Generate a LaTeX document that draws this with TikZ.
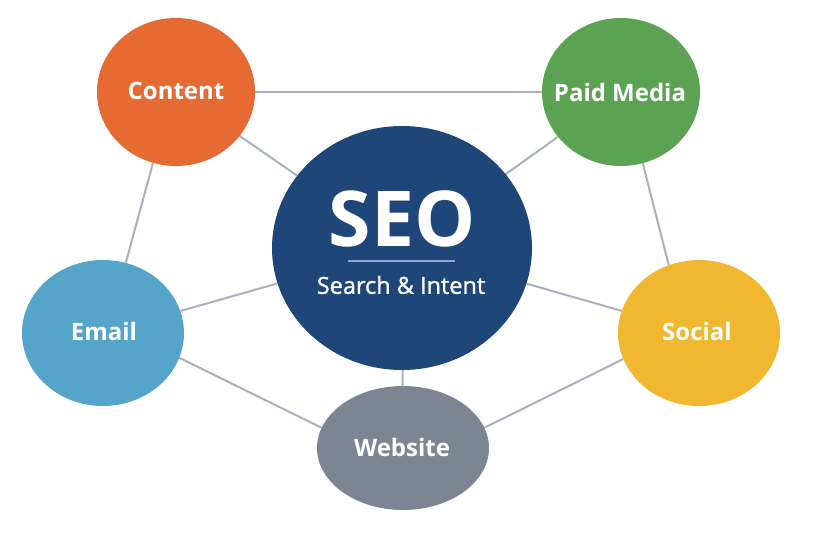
\documentclass[tikz,border=0pt]{standalone}
\usepackage{fontspec}
\setmainfont{Open Sans}
\newfontfamily\medfont[FakeBold=1.2]{Open Sans}
\usetikzlibrary{shapes.geometric,backgrounds}
\definecolor{cContent}{HTML}{E56B33}
\definecolor{cPaid}{HTML}{5BA352}
\definecolor{cEmail}{HTML}{55A5CB}
\definecolor{cSocial}{HTML}{F0B731}
\definecolor{cWeb}{HTML}{7D8595}
\definecolor{cSEO}{HTML}{1F4679}
\definecolor{cLink}{HTML}{A9B0BE}
\definecolor{cRule}{HTML}{8FA6D0}
\tikzset{
  bubble/.style={ellipse, inner sep=0pt, draw=none},
  lbl/.style={text=white, inner sep=0pt},
  blbl/.style={lbl, font=\bfseries\fontsize{24}{28}\selectfont},
  link/.style={draw=cLink, line width=2pt}
}
\begin{document}
\begin{tikzpicture}[x=1pt,y=-1pt]
\begin{scope}[on background layer]
\fill[white] (0,0) rectangle (837,557);
\end{scope}
\useasboundingbox (0,0) rectangle (837,557);
\node[bubble, fill=cContent, minimum width=158pt, minimum height=148pt] (content) at (176,92) {};
\node[bubble, fill=cPaid, minimum width=158pt, minimum height=148pt] (paid) at (621,92) {};
\node[bubble, fill=cEmail, minimum width=162pt, minimum height=146pt] (email) at (103,333) {};
\node[bubble, fill=cSocial, minimum width=162pt, minimum height=146pt] (social) at (699,333) {};
\node[bubble, fill=cWeb, minimum width=172pt, minimum height=124pt] (web) at (403,448) {};
\node[bubble, fill=cSEO, minimum width=260pt, minimum height=244pt] (seo) at (402,248) {};
\node[blbl] (contentt) at (176,91) {Content};
\node[blbl] (paidt) at (620,92) {Paid Media};
\node[blbl] (emailt) at (104,331) {Email};
\node[blbl] (socialt) at (697,331) {Social};
\node[blbl] (webt) at (402,447) {Website};
\node[lbl, font=\bfseries\fontsize{77}{80}\selectfont] (seot) at (402,219) {SEO};
\node[lbl, font=\medfont\fontsize{23.5}{26}\selectfont] (sub) at (401,285) {Search \& Intent};
\coordinate (r1) at (348,261);
\coordinate (r2) at (455,261);
\draw[cRule, line width=1.2pt] (r1) -- (r2);
\begin{scope}[on background layer]
\draw[link] (content) -- (paid);
\draw[link] (content) -- (seo);
\draw[link] (paid) -- (seo);
\draw[link] (email) -- (seo);
\draw[link] (social) -- (seo);
\draw[link] (seo) -- (web);
\draw[link] (content.-108) -- (email.72);
\draw[link] (paid.-73) -- (social.114);
\draw[link] (email.-18) -- (web.166);
\draw[link] (social.199) -- (web.14);
\end{scope}
\end{tikzpicture}
\end{document}
